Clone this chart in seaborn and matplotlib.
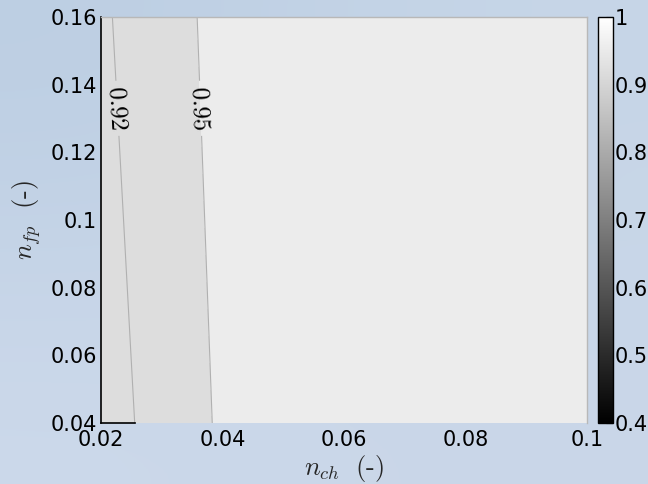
import matplotlib
matplotlib.use('Agg')
import matplotlib.pyplot as plt
import matplotlib.colors as mcolors
import matplotlib.cm as cm
from matplotlib.ticker import FuncFormatter
import seaborn as sns
import numpy as np

sns.set_style('white')
plt.rcParams['font.family'] = ['DejaVu Sans']
plt.rcParams['mathtext.fontset'] = 'cm'

# grid
n_ch = [0.02, 0.04, 0.06, 0.08, 0.1]
n_fp = [0.04, 0.16]
eff = [
    [0.907, 0.954, 0.968, 0.975, 0.980],   # n_fp = 0.04
    [0.916, 0.959, 0.970, 0.976, 0.981],   # n_fp = 0.16
]
fill_levels = [0.90, 0.95, 1.00]
band_shade = [0.92, 0.955]   # grey value each filled band shows on the colour scale
line_levels = [0.92, 0.95]
label_at_nfp = 0.133
cbar_ticks = [0.4, 0.5, 0.6, 0.7, 0.8, 0.9, 1.0]
x_ticks = [0.02, 0.04, 0.06, 0.08, 0.1]
y_ticks = [0.04, 0.06, 0.08, 0.1, 0.12, 0.14, 0.16]

X, Y = np.meshgrid(n_ch, n_fp)
Z = np.array(eff)
norm = mcolors.Normalize(vmin=0.4, vmax=1.0)
gray = plt.get_cmap('gray')

fig = plt.figure(figsize=(6.48, 4.84), dpi=100)
fig.patch.set_facecolor('#c6d5e7')

# soft blue backdrop
bg = fig.add_axes([0, 0, 1, 1], zorder=-10)
grad = np.array([[[0.74, 0.81, 0.89], [0.78, 0.84, 0.91]],
                 [[0.80, 0.85, 0.92], [0.79, 0.84, 0.91]]])
bg.imshow(grad, aspect='auto', interpolation='bicubic', extent=[0, 1, 0, 1])
bg.axis('off')

ax = fig.add_axes([0.156, 0.126, 0.750, 0.839])

fill_cols = [gray(norm(v)) for v in band_shade]
ax.contourf(X, Y, Z, levels=fill_levels, colors=fill_cols)
cs = ax.contour(X, Y, Z, levels=line_levels, colors='#b0b0b0', linewidths=0.8)

label_pos = []
for lev in line_levels:
    xs = [np.interp(lev, row, n_ch) for row in eff]
    xl = np.interp(label_at_nfp, n_fp, xs)
    label_pos.append((xl, label_at_nfp))
ax.clabel(cs, levels=line_levels, manual=label_pos, inline=True,
          fmt=lambda v: f'${v:.2f}$', fontsize=18, colors='black')

ax.set_xlim(0.02, 0.1)
ax.set_ylim(0.04, 0.16)
ax.set_xticks(x_ticks)
ax.set_yticks(y_ticks)
fmt = FuncFormatter(lambda v, p: f'{v:g}')
ax.xaxis.set_major_formatter(fmt)
ax.yaxis.set_major_formatter(fmt)
ax.tick_params(axis='both', length=0, labelsize=15, colors='black')
ax.tick_params(axis='x', pad=5)
ax.tick_params(axis='y', pad=3)

ax.set_xlabel(r'$n_{ch}\ \ (\text{-})$', fontsize=19)
ax.set_ylabel(r'$n_{fp}\ \ (\text{-})$', fontsize=19)
ax.xaxis.set_label_coords(0.5, -0.074)
ax.yaxis.set_label_coords(-0.12, 0.5)

for side in ['top', 'right']:
    ax.spines[side].set_color('#b8b8b8')
    ax.spines[side].set_linewidth(1.0)
ax.spines['left'].set_color('black')
ax.spines['left'].set_linewidth(1.2)
ax.spines['bottom'].set_color('black')
ax.spines['bottom'].set_linewidth(1.2)
ax.spines['bottom'].set_bounds(n_ch[0], np.interp(line_levels[0], eff[0], n_ch))

cax = fig.add_axes([0.923, 0.126, 0.023, 0.839])
sm = cm.ScalarMappable(norm=norm, cmap=gray)
cb = fig.colorbar(sm, cax=cax, ticks=cbar_ticks)
cb.ax.set_yticklabels([f'{t:g}' for t in cbar_ticks])
cb.ax.tick_params(direction='in', length=5, width=0.8, labelsize=15, pad=1, colors='black')
cb.outline.set_edgecolor('black')
cb.outline.set_linewidth(1.0)

fig.savefig('out.png', dpi=100, facecolor=fig.get_facecolor())
